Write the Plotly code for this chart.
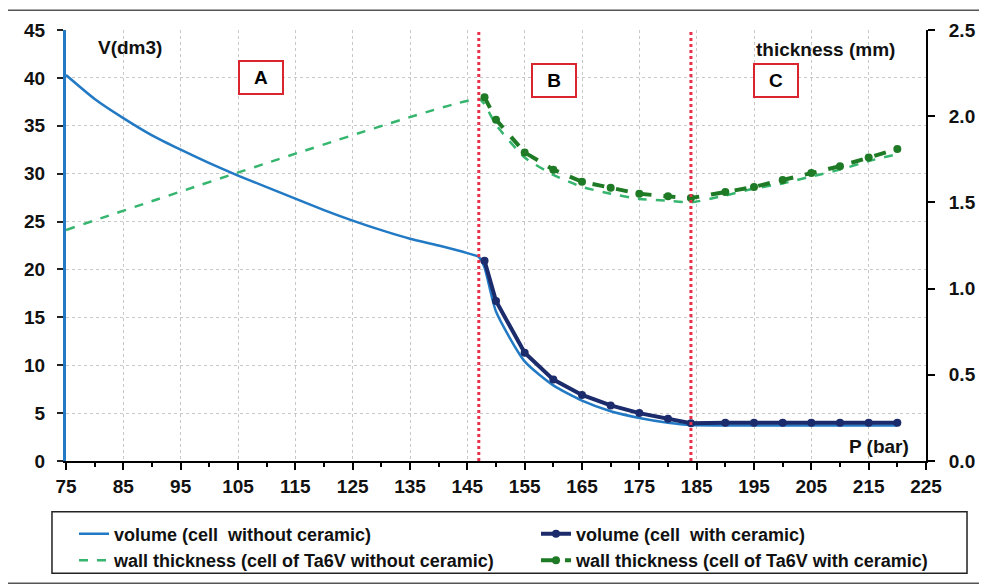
import plotly.graph_objects as go

# presion (bar) y volumen de la celda sin ceramica
p_sin = [75, 80, 85, 90, 95, 100, 105, 110, 115, 120, 125, 130, 135, 140, 145, 147,
         148, 150, 155, 160, 165, 170, 175, 180, 184, 190, 195, 200, 205, 210, 215, 220]
vol_sin = [40.3, 37.8, 35.8, 34.0, 32.5, 31.1, 29.8, 28.6, 27.4, 26.2, 25.1, 24.1, 23.2, 22.5, 21.7, 21.3,
           20.2, 15.6, 10.4, 7.9, 6.3, 5.2, 4.5, 4.0, 3.75, 3.7, 3.7, 3.7, 3.7, 3.7, 3.7, 3.7]

# celda con ceramica
p_con = [148, 150, 155, 160, 165, 170, 175, 180, 184, 190, 195, 200, 205, 210, 215, 220]
vol_con = [20.9, 16.7, 11.3, 8.5, 6.9, 5.8, 5.0, 4.4, 3.95, 4.0, 4.0, 4.0, 4.0, 4.0, 4.0, 4.0]

# espesor de pared (mm)
p_esp_sin = [75, 147, 148, 150, 155, 160, 165, 170, 175, 180, 184, 190, 195, 200, 205, 210, 215, 220]
esp_sin = [1.34, 2.10, 2.07, 1.95, 1.76, 1.66, 1.59, 1.55, 1.52, 1.51, 1.50, 1.54, 1.58, 1.61, 1.65, 1.69, 1.74, 1.78]
esp_con = [2.11, 1.98, 1.79, 1.69, 1.62, 1.585, 1.55, 1.535, 1.525, 1.56, 1.59, 1.63, 1.67, 1.71, 1.76, 1.81]

# limites de las zonas A, B, C
limites = [147, 184]
zonas = ["A", "B", "C"]
zonas_x = [0.2267, 0.5677, 0.8253]
zonas_y = [0.8906, 0.8818, 0.8836]

azul = "#2279c4"
marino = "#1b2b6b"
verde_claro = "#35b56e"
verde = "#1e7a25"
fuente = "Liberation Sans, Arial, sans-serif"

fig = go.Figure()
fig.add_trace(go.Scatter(x=p_sin, y=vol_sin, mode="lines", name="volume (cell  without ceramic)",
                         legend="legend",
                         line=dict(color=azul, width=2.5, shape="spline", smoothing=0.6)))
fig.add_trace(go.Scatter(x=p_con, y=vol_con, mode="lines+markers", name="volume (cell  with ceramic)",
                         legend="legend2",
                         line=dict(color=marino, width=4), marker=dict(size=8, color=marino)))
fig.add_trace(go.Scatter(x=p_esp_sin, y=esp_sin, mode="lines", yaxis="y2", legend="legend",
                         name="wall thickness (cell of Ta6V without ceramic)",
                         line=dict(color=verde_claro, width=2.5, dash="dash", shape="spline", smoothing=0.5)))
fig.add_trace(go.Scatter(x=p_con, y=esp_con, mode="lines+markers", yaxis="y2", legend="legend2",
                         name="wall thickness (cell of Ta6V with ceramic)",
                         line=dict(color=verde, width=4, dash="dash"), marker=dict(size=8, color=verde)))

# lineas rojas punteadas
for lx in limites:
    fig.add_shape(type="line", x0=lx, x1=lx, y0=0, y1=45, xref="x", yref="y",
                  line=dict(color="#e8304a", width=3, dash="dot"))

# marco exterior y marco de la leyenda
fig.add_shape(type="rect", xref="paper", yref="paper", x0=-0.0686, x1=1.08, y0=-0.2834, y1=1.046,
              line=dict(color="#555555", width=1.5))
fig.add_shape(type="rect", xref="paper", yref="paper", x0=-0.0163, x1=1.0477, y0=-0.2604, y1=-0.1175,
              line=dict(color="#222222", width=1.5))

for z, zx, zy in zip(zonas, zonas_x, zonas_y):
    fig.add_annotation(text="<b>" + z + "</b>", x=zx, y=zy, xref="paper", yref="paper", showarrow=False,
                       xanchor="center", yanchor="middle",
                       font=dict(size=19, color="black", family=fuente), bordercolor="#d9252e",
                       borderwidth=2, borderpad=2, width=38, height=27, bgcolor="white")

textos = ["<b>V(dm3)</b>", "<b>thickness (mm)</b>", "<b>P (bar)</b>"]
textos_x = [0.0744, 0.8831, 0.945]
textos_y = [0.9585, 0.954, 0.033]
for t, tx, ty in zip(textos, textos_x, textos_y):
    fig.add_annotation(text=t, x=tx, y=ty, xref="paper", yref="paper", showarrow=False,
                       xanchor="center", yanchor="middle", font=dict(size=19, color="#111", family=fuente))

ley = dict(orientation="v", y=-0.1267, xanchor="left", yanchor="top", borderwidth=0,
           bgcolor="rgba(0,0,0,0)", tracegroupgap=0,
           font=dict(size=18, family=fuente, weight=700, color="#111"))

fig.update_layout(
    width=987, height=586,
    margin=dict(l=58, r=69, t=19, b=133),
    paper_bgcolor="white", plot_bgcolor="white",
    font=dict(family=fuente, size=18, color="#111"),
    xaxis=dict(range=[75, 225], tick0=75, dtick=10, showgrid=True, gridcolor="#c8c8c8", griddash="dot",
               showline=True, linecolor="black", linewidth=2, ticks="outside", ticklen=7, tickwidth=2,
               tickcolor="black", tickfont=dict(size=19, family=fuente, weight=700), zeroline=False,
               minor=dict(dtick=5, tick0=75, ticks="outside", ticklen=4, tickwidth=2, tickcolor="black", showgrid=False)),
    yaxis=dict(range=[0, 45], dtick=5, showgrid=True, gridcolor="#c8c8c8", griddash="dot",
               showline=True, linecolor=azul, linewidth=3, ticks="outside", ticklen=6, tickwidth=2,
               tickcolor="#222", tickfont=dict(size=19, family=fuente, weight=700), zeroline=False,
               ticklabelstandoff=8),
    yaxis2=dict(range=[0, 2.5], dtick=0.5, tickformat=".1f", overlaying="y", side="right", showgrid=False,
                showline=True, linecolor="black", linewidth=2, ticks="outside", ticklen=7, tickwidth=2,
                tickcolor="black", tickfont=dict(size=19, family=fuente, weight=700), zeroline=False,
                ticklabelstandoff=10),
    legend=dict(ley, x=0.0093),
    legend2=dict(ley, x=0.5465),
    showlegend=True,
)

fig.write_html("out.html")
